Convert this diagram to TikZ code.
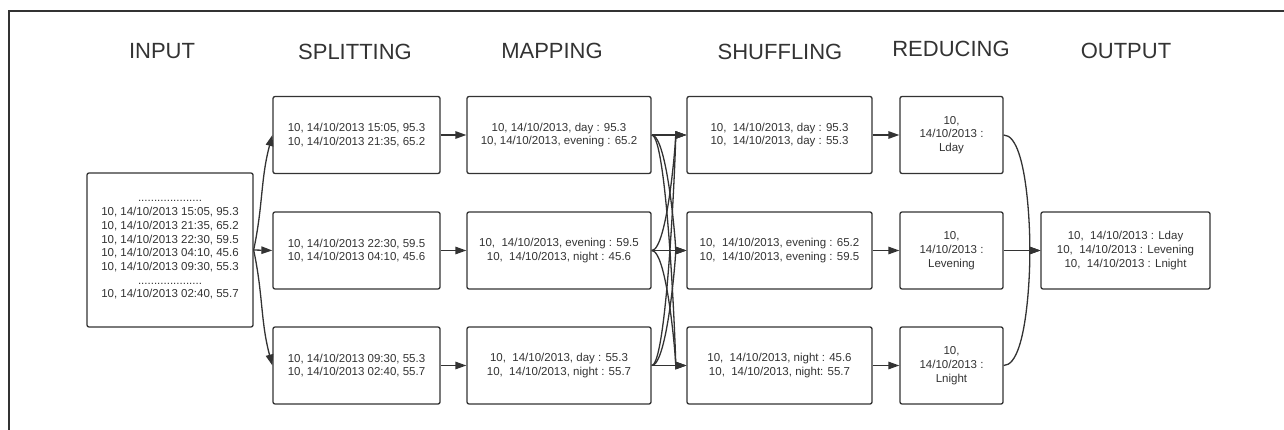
\documentclass[tikz,border=0pt]{standalone}
\usepackage{fontspec}
\setmainfont{Liberation Sans}
\usepackage{tikz}
\usetikzlibrary{arrows.meta}
\usetikzlibrary{positioning}
\definecolor{ink}{HTML}{333333}
\tikzstyle{stage}=[font=\fontsize{22}{24}\selectfont,text=ink,inner sep=0mm]
\tikzstyle{rec}=[rectangle,draw=ink,rounded corners=2pt,align=center,text=ink,inner sep=0mm,
  font=\fontsize{11.5}{13.7}\selectfont,minimum height=77pt]
\tikzstyle{arrow}=[->,>={Triangle[length=11pt,width=7.5pt]},draw=ink]
\tikzset{every picture/.style={
    line width=1.3pt, x=1pt, y=1pt
  }
}

\begin{document}
\begin{tikzpicture}
        \useasboundingbox (0,0) rectangle (1284,-430);
        \draw[ink] (1284,-11) -- (9,-11) -- (9,-430);
        % stage titles
        \node[stage] at (162,-51) (tin) {INPUT};
        \node[stage] at (355,-52) (tsp) {SPLITTING};
        \node[stage] at (552,-51) (tma) {MAPPING};
        \node[stage] at (780,-52) (tsh) {SHUFFLING};
        \node[stage] at (951,-49) (tre) {REDUCING};
        \node[stage] at (1126,-51) (tou) {OUTPUT};
        % boxes
        \node[rec,minimum width=166pt,minimum height=154pt] at (170,-250) (in) {....................\\
          10, 14/10/2013 15:05, 95.3\\10, 14/10/2013 21:35, 65.2\\10, 14/10/2013 22:30, 59.5\\
          10, 14/10/2013 04:10, 45.6\\10, 14/10/2013 09:30, 55.3\\....................\\
          10, 14/10/2013 02:40, 55.7};
        \node[rec,minimum width=167pt] at (356.5,-135) (s1) {10, 14/10/2013 15:05, 95.3\\10, 14/10/2013 21:35, 65.2};
        \node[rec,minimum width=167pt] at (356.5,-250.5) (s2) {10, 14/10/2013 22:30, 59.5\\10, 14/10/2013 04:10, 45.6};
        \node[rec,minimum width=167pt] at (356.5,-365.5) (s3) {10, 14/10/2013 09:30, 55.3\\10, 14/10/2013 02:40, 55.7};
        \node[rec,minimum width=184pt] at (559,-135) (m1) {10, 14/10/2013, day : 95.3\\10, 14/10/2013, evening : 65.2};
        \node[rec,minimum width=184pt] at (559,-250.5) (m2) {10,~~14/10/2013, evening : 59.5\\10,~~14/10/2013, night : 45.6};
        \node[rec,minimum width=184pt] at (559,-365.5) (m3) {10,~~14/10/2013, day : 55.3\\10,~~14/10/2013, night : 55.7};
        \node[rec,minimum width=185pt] at (779.5,-135) (h1) {10,~~14/10/2013, day : 95.3\\10,~~14/10/2013, day : 55.3};
        \node[rec,minimum width=185pt] at (779.5,-250.5) (h2) {10,~~14/10/2013, evening : 65.2\\10,~~14/10/2013, evening : 59.5};
        \node[rec,minimum width=185pt] at (779.5,-365.5) (h3) {10,~~14/10/2013, night : 45.6\\10,~~14/10/2013, night: 55.7};
        \node[rec,minimum width=103pt] at (951.5,-135) (r1) {10,\\14/10/2013 :\\Lday};
        \node[rec,minimum width=103pt] at (951.5,-250.5) (r2) {10,\\14/10/2013 :\\Levening};
        \node[rec,minimum width=103pt] at (951.5,-365.5) (r3) {10,\\14/10/2013 :\\Lnight};
        \node[rec,minimum width=169pt] at (1125.5,-250.5) (out) {10,~~14/10/2013 : Lday\\
          10,~~14/10/2013 : Levening\\10,~~14/10/2013 : Lnight};
        % input to splitting
        \draw[arrow] (in.east) to[out=78,in=255] (s1.west);
        \draw[arrow] (in.east) -- (s2.west);
        \draw[arrow] (in.east) to[out=-78,in=105] (s3.west);
        % splitting to mapping
        \draw[arrow] (s1) -- (m1);
        \draw[arrow] (s2) -- (m2);
        \draw[arrow] (s3) -- (m3);
        % mapping to shuffling
        \draw[arrow] (m1.east) -- (h1.west);
        \draw[arrow] (m1.east) .. controls +(16,0) and +(-10,0) .. (h2.west);
        \draw[arrow] (m1.east) .. controls +(16,0) and +(-10,0) .. (h3.west);
        \draw[arrow] (m2.east) .. controls +(16,0) and +(-10,0) .. (h1.west);
        \draw[arrow] (m2.east) -- (h2.west);
        \draw[arrow] (m2.east) .. controls +(16,0) and +(-10,0) .. (h3.west);
        \draw[arrow] (m3.east) .. controls +(16,0) and +(-10,0) .. (h1.west);
        \draw[arrow] (m3.east) .. controls +(16,0) and +(-10,0) .. (h2.west);
        \draw[arrow] (m3.east) -- (h3.west);
        % shuffling to reducing
        \draw[arrow] (h1) -- (r1);
        \draw[arrow] (h2) -- (r2);
        \draw[arrow] (h3) -- (r3);
        % reducing to output
        \draw[arrow] (r1.east) .. controls +(26,0) and +(-10,0) .. (out.west);
        \draw[arrow] (r2.east) -- (out.west);
        \draw[arrow] (r3.east) .. controls +(26,0) and +(-10,0) .. (out.west);
      \end{tikzpicture}
\end{document}
